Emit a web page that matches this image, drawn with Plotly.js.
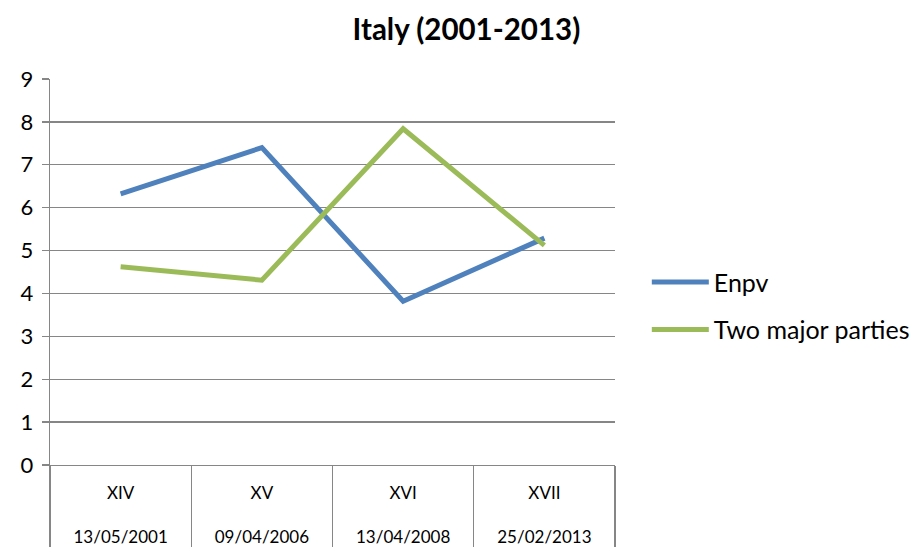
<!DOCTYPE html>
<html>
<head>
<meta charset="utf-8">
<script src="https://cdn.plot.ly/plotly-3.0.1.min.js"></script>
<style>html,body{margin:0;padding:0;background:#fff}#chart{width:911px;height:547px}</style>
</head>
<body>
<div id="chart"></div>
<script>
var legislatures = ["XIV", "XV", "XVI", "XVII"];
var electionDates = ["13/05/2001", "09/04/2006", "13/04/2008", "25/02/2013"];
var enpv = [6.32, 7.40, 3.82, 5.29];
var twoMajorParties = [4.62, 4.31, 7.84, 5.12];
var yTicks = [0, 1, 2, 3, 4, 5, 6, 7, 8, 9];

var FONT = "Lato, 'Liberation Sans', sans-serif";
var GRID = "#868686";

var tickText = legislatures.map(function (l, i) { return l + "<br><br>" + electionDates[i]; });

var traces = [
  {
    x: legislatures, y: enpv, name: "Enpv", type: "scatter", mode: "lines",
    line: { color: "#4F81BD", width: 5 }, legendgroup: "a"
  },
  {
    x: legislatures, y: twoMajorParties, name: "Two major parties", type: "scatter", mode: "lines",
    line: { color: "#9BBB59", width: 5 }, legendgroup: "b"
  }
];

var layout = {
  width: 911, height: 547,
  margin: { l: 50, r: 296, t: 79, b: 82, autoexpand: false },
  paper_bgcolor: "#fff", plot_bgcolor: "#fff",
  font: { family: FONT, color: "#000" },
  title: {
    text: "<b>Italy (2001-2013)</b>",
    font: { family: FONT, size: 29.5, color: "#000" },
    x: 0.512, xref: "container", xanchor: "center", y: 0.945, yanchor: "middle"
  },
  showlegend: true,
  legend: {
    xref: "container", yref: "container",
    x: 0.710, xanchor: "left", y: 0.441, yanchor: "middle",
    font: { family: FONT, size: 25, color: "#000" },
    traceorder: "grouped", tracegroupgap: 12,
    itemwidth: 57,
    bgcolor: "rgba(0,0,0,0)"
  },
  xaxis: {
    type: "category",
    range: [-0.5, 3.5],
    tickmode: "array", tickvals: legislatures, ticktext: tickText,
    tickson: "boundaries",
    ticks: "outside", ticklen: 84, tickcolor: GRID, tickwidth: 1.3,
    showgrid: false, zeroline: false,
    showline: true, linecolor: GRID, linewidth: 1.3,
    tickfont: { family: FONT, size: 17, color: "#000" },
    ticklabelstandoff: 12,
    fixedrange: true
  },
  yaxis: {
    range: [0, 9],
    tickmode: "array", tickvals: yTicks,
    ticks: "outside", ticklen: 7, tickcolor: GRID, tickwidth: 1.3,
    showgrid: true, gridcolor: GRID, gridwidth: 1.3,
    zeroline: false,
    showline: true, linecolor: GRID, linewidth: 1.3,
    tickfont: { family: FONT, size: 22, color: "#000" },
    ticklabelstandoff: 4,
    fixedrange: true
  }
};

Plotly.newPlot("chart", traces, layout, { displayModeBar: false, staticPlot: true });
</script>
</body>
</html>
